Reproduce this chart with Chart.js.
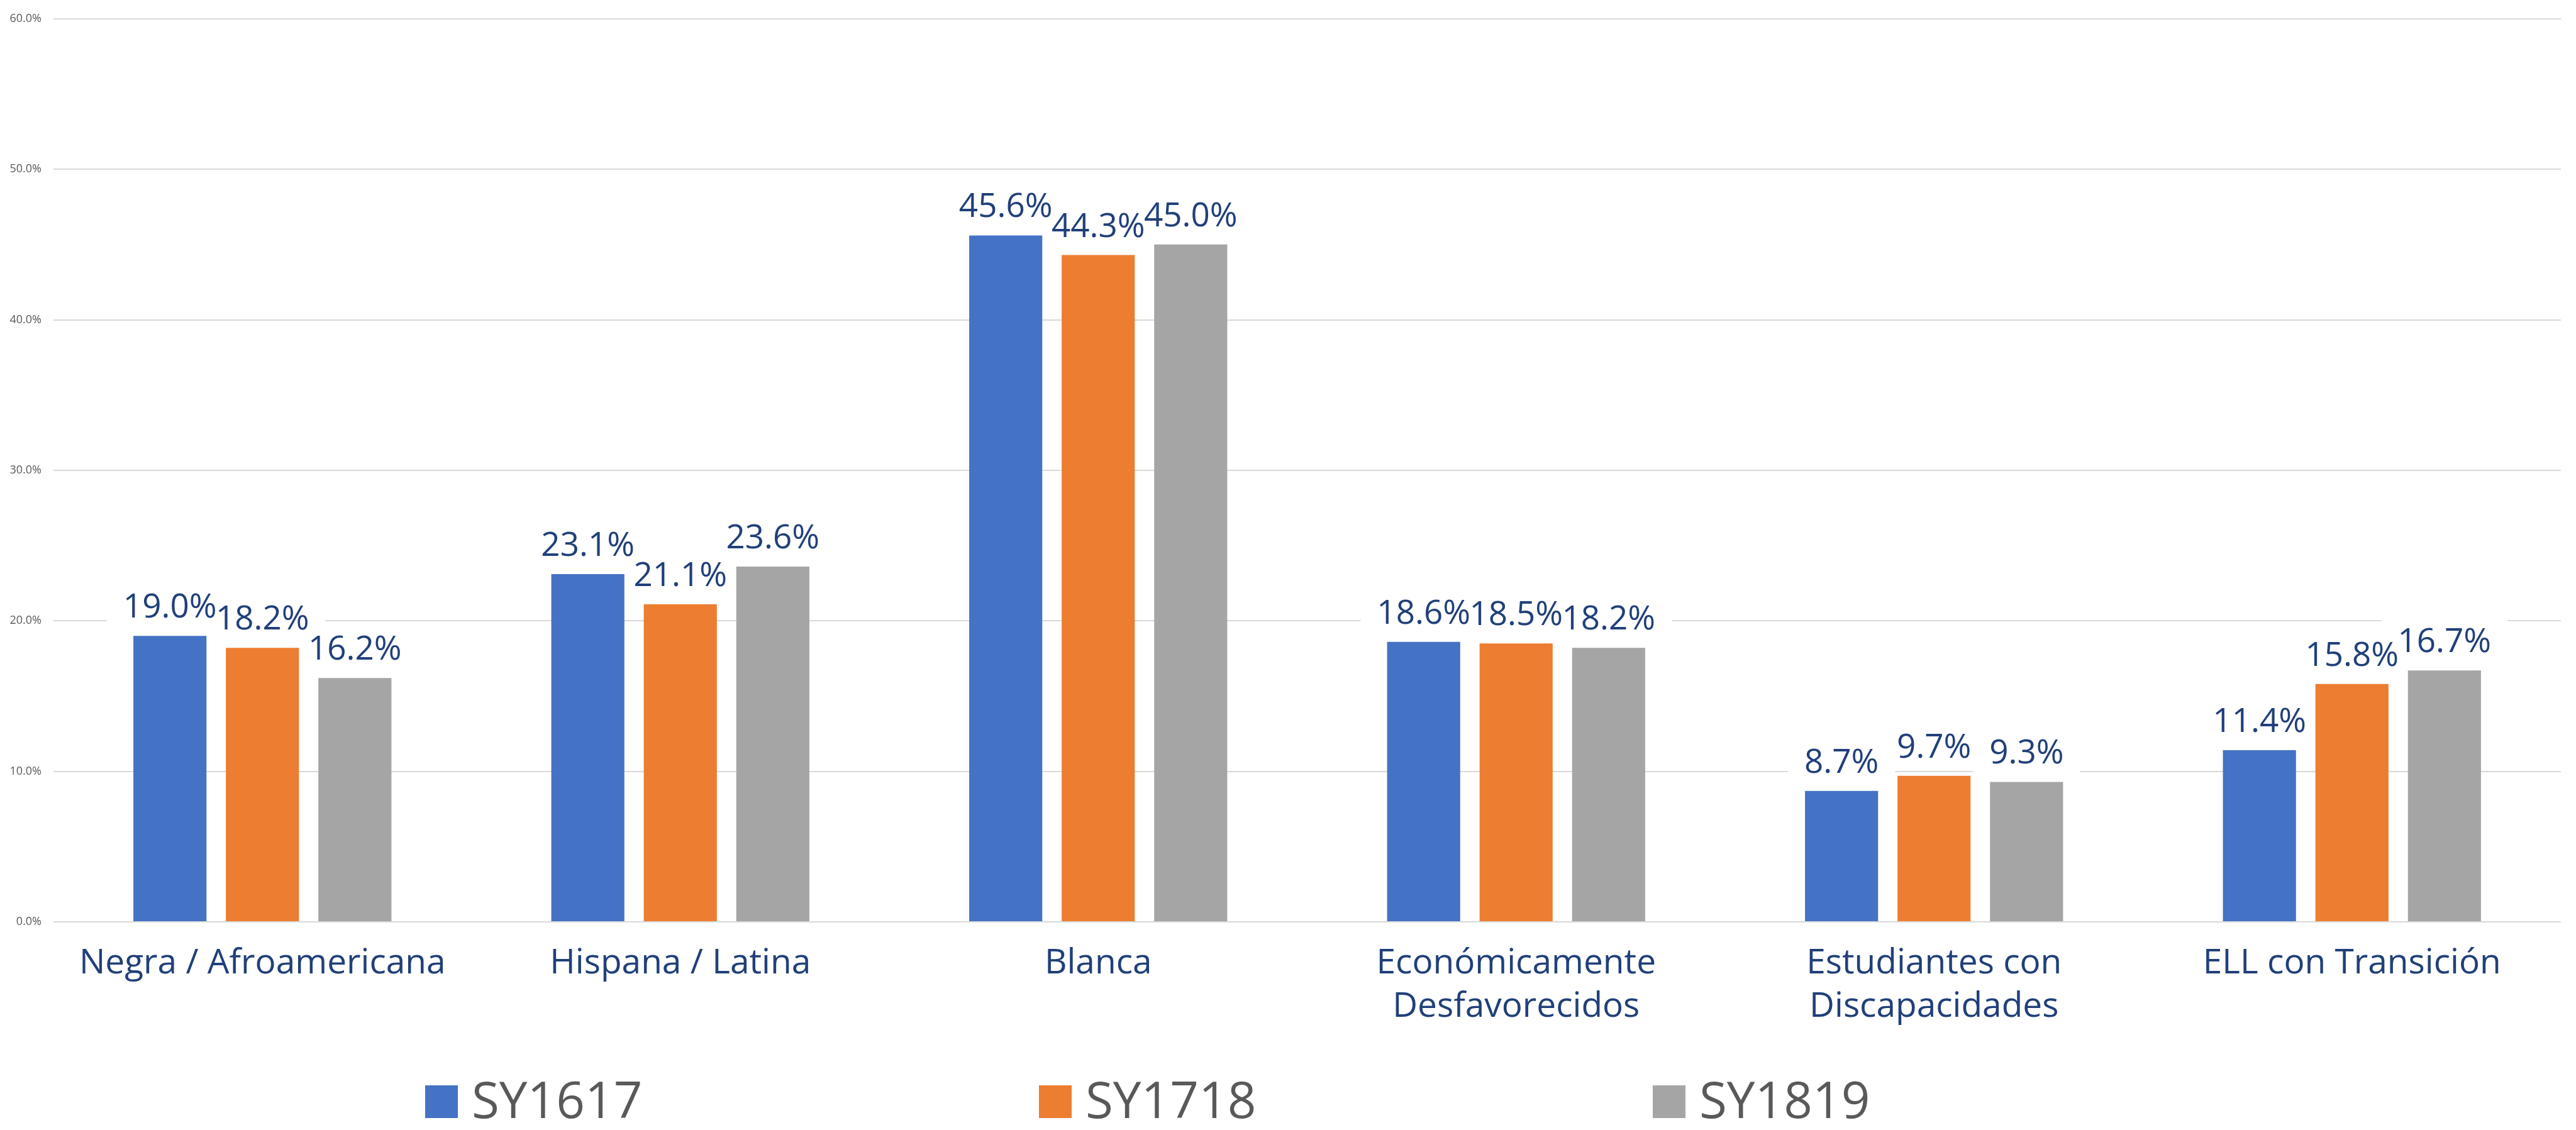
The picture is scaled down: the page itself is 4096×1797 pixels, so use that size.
<!DOCTYPE html>
<html>
<head>
<meta charset="utf-8">
<script src="https://cdn.jsdelivr.net/npm/chart.js@4/dist/chart.umd.min.js"></script>
<style>
  html, body { margin: 0; padding: 0; background: #ffffff; }
  #wrap { width: 4096px; height: 1797px; }
</style>
</head>
<body>
<div id="wrap"><canvas id="c" width="4096" height="1797"></canvas></div>
<script>
// ---- data ----
const categories = [
  'Negra / Afroamericana',
  'Hispana / Latina',
  'Blanca',
  ['Económicamente', 'Desfavorecidos'],
  ['Estudiantes con', 'Discapacidades'],
  'ELL con Transición'
];
const seriesNames = ['SY1617', 'SY1718', 'SY1819'];
const sy1617 = [19.0, 23.1, 45.6, 18.6, 8.7, 11.4];
const sy1718 = [18.2, 21.1, 44.3, 18.5, 9.7, 15.8];
const sy1819 = [16.2, 23.6, 45.0, 18.2, 9.3, 16.7];
const yTickValues = [0, 10, 20, 30, 40, 50, 60];

// ---- styles ----
const colors = ['#4472C4', '#ED7D31', '#A5A5A5'];
const labelColor = '#21407A';
const tickColor = '#595959';
const gridColor = '#D9D9D9';
const FONT = '"Open Sans", "Noto Sans", sans-serif';

const fmt = v => v.toFixed(1) + '%';

const dataLabelPlugin = {
  id: 'dataLabels',
  beforeDatasetsDraw(chart) {
    const ctx = chart.ctx;
    ctx.save();
    ctx.font = '53px ' + FONT;
    ctx.fillStyle = '#ffffff';
    chart.data.datasets.forEach((ds, i) => {
      chart.getDatasetMeta(i).data.forEach((bar, j) => {
        const t = fmt(ds.data[j]);
        const w = ctx.measureText(t).width;
        const base = bar.y - 29;
        ctx.fillRect(bar.x - w / 2 - 26, base - 38 - 16, w + 52, 38 + 16 + 17);
      });
    });
    ctx.restore();
  },
  afterDatasetsDraw(chart) {
    const ctx = chart.ctx;
    ctx.save();
    ctx.font = '53px ' + FONT;
    ctx.fillStyle = labelColor;
    ctx.textAlign = 'center';
    ctx.textBaseline = 'alphabetic';
    chart.data.datasets.forEach((ds, i) => {
      chart.getDatasetMeta(i).data.forEach((bar, j) => {
        ctx.fillText(fmt(ds.data[j]), bar.x, bar.y - 29);
      });
    });
    ctx.restore();
  }
};

const legendPlugin = {
  id: 'customLegend',
  afterDraw(chart) {
    const ctx = chart.ctx;
    ctx.save();
    ctx.font = '80px ' + FONT;
    ctx.textBaseline = 'alphabetic';
    ctx.textAlign = 'left';
    chart.data.datasets.forEach((ds, i) => {
      const x = 676 + i * 976;
      ctx.fillStyle = ds.backgroundColor;
      ctx.fillRect(x, 1726, 52, 52);
      ctx.fillStyle = tickColor;
      ctx.fillText(ds.label, x + 74, 1778);
    });
    ctx.restore();
  }
};

new Chart(document.getElementById('c'), {
  type: 'bar',
  data: {
    labels: categories,
    datasets: [
      { label: seriesNames[0], data: sy1617, backgroundColor: colors[0] },
      { label: seriesNames[1], data: sy1718, backgroundColor: colors[1] },
      { label: seriesNames[2], data: sy1819, backgroundColor: colors[2] }
    ]
  },
  options: {
    responsive: false,
    devicePixelRatio: 1,
    animation: false,
    layout: { padding: { left: 0, right: 24, top: 25, bottom: 131 } },
    datasets: {
      bar: { categoryPercentage: 0.664, barPercentage: 0.79, borderWidth: 0 }
    },
    plugins: {
      legend: { display: false },
      tooltip: { enabled: false }
    },
    scales: {
      x: {
        grid: { display: false },
        border: { display: false },
        ticks: {
          color: labelColor,
          font: { family: FONT, size: 55, lineHeight: 1.25 },
          padding: 24,
          maxRotation: 0,
          autoSkip: false
        },
        afterFit(s) { s.height = 200; }
      },
      y: {
        min: 0,
        max: 60,
        grid: { color: gridColor, lineWidth: 2, drawTicks: false },
        border: { display: false },
        afterBuildTicks(s) { s.ticks = yTickValues.map(v => ({ value: v })); },
        ticks: {
          color: tickColor,
          font: { family: FONT, size: 18 },
          padding: 19,
          callback: v => fmt(v)
        },
        afterFit(s) { s.width = 85; }
      }
    }
  },
  plugins: [dataLabelPlugin, legendPlugin]
});
</script>
</body>
</html>
